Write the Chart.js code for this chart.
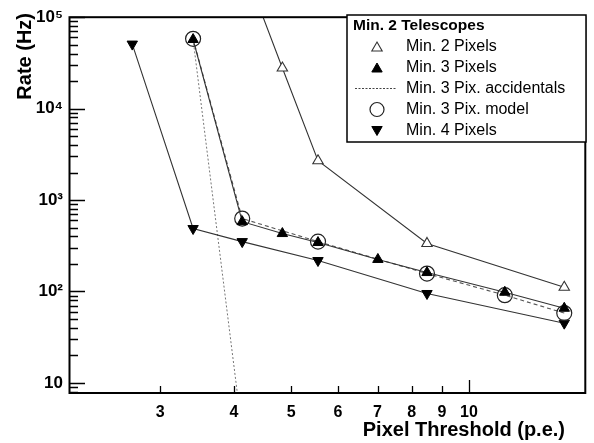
<!DOCTYPE html>
<html><head><meta charset="utf-8">
<script src="https://cdn.jsdelivr.net/npm/chart.js@4.4.0/dist/chart.umd.min.js"></script>
<style>html,body{margin:0;padding:0;background:#fff;}canvas{display:block;}</style>
</head><body>
<canvas id="c" width="594" height="443"></canvas>
<script>
// ---- data ----
const min2PixThr  = [4.13, 4.83, 5.55, 8.49, 14.5];
const min2PixRate = [400000, 27800, 2690, 335, 111];

const min3PixThr  = [3.41, 4.13, 4.83, 5.55, 7.01, 8.49, 11.5, 14.5];
const min3PixRate = [57000, 580, 430, 343, 224, 161, 98, 65.5];

const accThr  = [3.41, 4.18];
const accRate = [57000, 1.55];

const modelThr  = [3.41, 4.13, 5.55, 8.49, 11.5, 14.5];
const modelRate = [58000, 627, 351, 157, 91, 58];

const min4PixThr  = [2.69, 3.41, 4.13, 5.55, 8.49, 14.5];
const min4PixRate = [50800, 488, 351, 218, 95, 45];

const xTickValues = [3, 4, 5, 6, 7, 8, 9, 10];
const yTickValues = [10, 100, 1000, 10000, 100000];
const yTickLabels = ['10', '10²', '10³', '10⁴', '10⁵'];

const legendTitle = 'Min. 2 Telescopes';
const legendLabels = ['Min. 2 Pixels', 'Min. 3 Pixels', 'Min. 3 Pix. accidentals', 'Min. 3 Pix. model', 'Min. 4 Pixels'];
const xTitle = 'Pixel Threshold (p.e.)';
const yTitle = 'Rate (Hz)';

const FONT = "'Liberation Sans', Arial, Helvetica, sans-serif";
const pts = (xs, ys) => xs.map((x, i) => ({x, y: ys[i]}));

const LINE = '#333';
const datasets = [
  {label: legendLabels[1], data: pts(min3PixThr, min3PixRate), borderColor: LINE, borderWidth: 1.1,
   pointStyle: 'triangle', pointRadius: 6, pointBackgroundColor: '#000', pointBorderColor: '#000', pointBorderWidth: 1},
  {label: legendLabels[3], data: pts(modelThr, modelRate), borderColor: '#555', borderWidth: 1.1, borderDash: [4, 3],
   pointStyle: 'circle', pointRadius: 7.5, pointBackgroundColor: 'rgba(0,0,0,0)', pointBorderColor: '#222', pointBorderWidth: 1.2},
  {label: legendLabels[0], data: pts(min2PixThr, min2PixRate), borderColor: LINE, borderWidth: 1.1,
   pointStyle: 'triangle', pointRadius: 6, pointBackgroundColor: '#fff', pointBorderColor: '#333', pointBorderWidth: 1.1},
  {label: legendLabels[4], data: pts(min4PixThr, min4PixRate), borderColor: LINE, borderWidth: 1.1,
   pointStyle: 'triangle', pointRotation: 180, pointRadius: 6, pointBackgroundColor: '#000', pointBorderColor: '#000', pointBorderWidth: 1},
  {label: legendLabels[2], data: pts(accThr, accRate), borderColor: '#777', borderWidth: 1, borderDash: [2, 2],
   pointRadius: 0}
];

const decorPlugin = {
  id: 'decor',
  afterDatasetsDraw(chart) {
    const ctx = chart.ctx, a = chart.chartArea;
    const xs = chart.scales.x, ys = chart.scales.y;
    ctx.save();
    // inward ticks
    ctx.strokeStyle = '#000'; ctx.lineWidth = 1.3;
    ctx.beginPath();
    for (let e = 0; e <= 5; e++) {
      for (let m = 1; m <= 9; m++) {
        const v = m * Math.pow(10, e);
        if (v < ys.min || v > ys.max) continue;
        const py = Math.round(ys.getPixelForValue(v)) + 0.5;
        const len = m === 1 ? 15 : 8;
        ctx.moveTo(a.left, py); ctx.lineTo(a.left + len, py);
      }
    }
    xTickValues.forEach(v => {
      const px = Math.round(xs.getPixelForValue(v)) + 0.5;
      const len = v === 10 ? 13 : 7;
      ctx.moveTo(px, a.bottom); ctx.lineTo(px, a.bottom - len);
    });
    ctx.stroke();
    // frame
    ctx.lineWidth = 2;
    ctx.strokeRect(a.left - 0.5, a.top, a.right - a.left + 0.5, a.bottom - a.top);

    // legend box
    const lx = 347, ly = 15, lw = 239, lh = 127;
    ctx.fillStyle = '#fff';
    ctx.fillRect(lx, ly, lw, lh);
    ctx.lineWidth = 1.5; ctx.strokeStyle = '#000';
    ctx.strokeRect(lx, ly, lw, lh);
    ctx.fillStyle = '#000';
    ctx.textBaseline = 'middle'; ctx.textAlign = 'left';
    ctx.font = 'bold 15.5px ' + FONT;
    ctx.fillText(legendTitle, 353, 26);
    ctx.font = '16px ' + FONT;
    const rows = [47, 68, 88.5, 109.5, 130.5];
    const mx = 377;
    const order = [0, 1, 2, 3, 4];
    order.forEach((k, i) => ctx.fillText(legendLabels[k], 406, rows[i]));
    // markers
    const H = Chart.helpers;
    // open triangle
    ctx.fillStyle = '#fff'; ctx.strokeStyle = '#333'; ctx.lineWidth = 1.1;
    H.drawPoint(ctx, {pointStyle: 'triangle', radius: 6, rotation: 0, borderWidth: 1.1}, mx, rows[0] + 1);
    // filled triangle
    ctx.fillStyle = '#000'; ctx.strokeStyle = '#000'; ctx.lineWidth = 1;
    H.drawPoint(ctx, {pointStyle: 'triangle', radius: 6, rotation: 0, borderWidth: 1}, mx, rows[1] + 1);
    // dotted line
    ctx.save();
    ctx.strokeStyle = '#444'; ctx.lineWidth = 1.2; ctx.setLineDash([2, 1.5]);
    ctx.beginPath(); ctx.moveTo(355, rows[2]); ctx.lineTo(397, rows[2]); ctx.stroke();
    ctx.restore();
    // circle
    ctx.fillStyle = 'rgba(0,0,0,0)'; ctx.strokeStyle = '#222'; ctx.lineWidth = 1.2;
    H.drawPoint(ctx, {pointStyle: 'circle', radius: 7, rotation: 0, borderWidth: 1.2}, mx, rows[3]);
    // down triangle
    ctx.fillStyle = '#000'; ctx.strokeStyle = '#000'; ctx.lineWidth = 1;
    H.drawPoint(ctx, {pointStyle: 'triangle', radius: 6, rotation: 180, borderWidth: 1}, mx, rows[4] - 1);

    // axis titles
    ctx.fillStyle = '#000';
    ctx.font = 'bold 20px ' + FONT;
    ctx.textAlign = 'right'; ctx.textBaseline = 'middle';
    ctx.fillText(xTitle, 565, 430);
    ctx.save();
    ctx.translate(25, 13);
    ctx.rotate(-Math.PI / 2);
    ctx.fillText(yTitle, 0, 0);
    ctx.restore();
    ctx.restore();
  }
};

new Chart(document.getElementById('c'), {
  type: 'line',
  data: {datasets},
  options: {
    responsive: false,
    animation: false,
    devicePixelRatio: 1,
    layout: {padding: {top: 16, right: 8, left: 0, bottom: 0}},
    plugins: {legend: {display: false}, tooltip: {enabled: false}},
    elements: {line: {tension: 0}},
    scales: {
      x: {
        type: 'logarithmic', min: 2.11, max: 15.74,
        grid: {display: false, drawTicks: false},
        border: {display: false},
        afterBuildTicks: s => { s.ticks = xTickValues.map(v => ({value: v})); },
        afterFit: s => { s.height = 50; },
        ticks: {
          autoSkip: false, maxRotation: 0, padding: 10, color: '#000',
          font: {family: FONT, size: 16, weight: 'bold'},
          callback: v => String(v)
        }
      },
      y: {
        type: 'logarithmic', min: 7.75, max: 100000,
        grid: {display: false, drawTicks: false},
        border: {display: false},
        afterBuildTicks: s => { s.ticks = yTickValues.map(v => ({value: v})); },
        afterFit: s => { s.width = 70; },
        ticks: {
          autoSkip: false, padding: 7, color: '#000',
          font: {family: FONT, size: 17, weight: 'bold'},
          callback: v => { const i = yTickValues.indexOf(v); return i >= 0 ? yTickLabels[i] : ''; }
        }
      }
    }
  },
  plugins: [decorPlugin]
});
</script>
</body></html>
